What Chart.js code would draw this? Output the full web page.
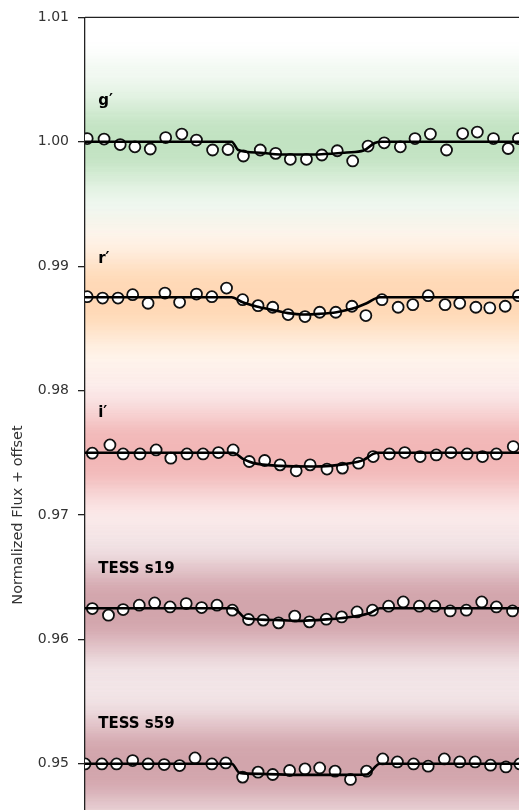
<!DOCTYPE html>
<html><head><meta charset="utf-8">
<script src="https://cdn.jsdelivr.net/npm/chart.js@4.4.1/dist/chart.umd.min.js"></script>
<style>
html,body{margin:0;padding:0;background:#fff;overflow:hidden;width:519px;height:810px}
canvas{display:block}
</style></head>
<body>
<canvas id="c" width="540" height="1030" style="width:540px;height:1030px"></canvas>
<script>
// ---------- data ----------
const bandNames = ['g′', 'r′', 'i′', 'TESS s19', 'TESS s59'];
const bandOffsets = [1.0, 0.9875, 0.975, 0.9625, 0.95];
const yTickValues = [0.95, 0.96, 0.97, 0.98, 0.99, 1.00, 1.01];

// binned points (time from mid-transit, hours ; normalized flux + offset)
const gBinT = [-2.97,-2.74,-2.52,-2.32,-2.11,-1.90,-1.68,-1.48,-1.26,-1.05,-0.84,-0.61,-0.40,-0.20,0.02,0.23,0.44,0.65,0.86,1.08,1.30,1.50,1.71,1.93,2.15,2.35,2.57,2.77,2.91];
const gBinF = [1.00026,1.00022,0.99978,0.99960,0.99942,1.00034,1.00062,1.00014,0.99934,0.99938,0.99886,0.99934,0.99907,0.99859,0.99859,0.99894,0.99928,0.99846,0.99966,0.99992,0.99960,1.00026,1.00062,0.99934,1.00066,1.00078,1.00026,0.99946,1.00026];
const rBinT = [-2.97,-2.76,-2.55,-2.35,-2.14,-1.91,-1.71,-1.48,-1.27,-1.07,-0.85,-0.64,-0.44,-0.23,0.00,0.20,0.42,0.64,0.83,1.05,1.27,1.47,1.68,1.91,2.11,2.33,2.52,2.73,2.91];
const rBinF = [0.98755,0.98744,0.98744,0.98771,0.98702,0.98784,0.98710,0.98776,0.98755,0.98824,0.98731,0.98683,0.98670,0.98611,0.98595,0.98630,0.98630,0.98678,0.98603,0.98731,0.98670,0.98691,0.98763,0.98691,0.98702,0.98670,0.98665,0.98678,0.98763];
const iBinT = [-2.90,-2.66,-2.48,-2.25,-2.03,-1.83,-1.61,-1.39,-1.18,-0.98,-0.76,-0.55,-0.34,-0.12,0.07,0.30,0.51,0.73,0.93,1.15,1.36,1.57,1.79,1.99,2.21,2.42,2.61,2.84];
const iBinF = [0.97497,0.97563,0.97491,0.97491,0.97523,0.97457,0.97491,0.97491,0.97502,0.97523,0.97430,0.97438,0.97403,0.97355,0.97403,0.97369,0.97377,0.97417,0.97470,0.97491,0.97502,0.97470,0.97483,0.97502,0.97491,0.97470,0.97491,0.97550];
const s19BinT = [-2.90,-2.68,-2.48,-2.26,-2.05,-1.84,-1.62,-1.41,-1.20,-0.99,-0.77,-0.57,-0.36,-0.14,0.06,0.29,0.50,0.71,0.92,1.14,1.34,1.56,1.77,1.98,2.20,2.41,2.61,2.83];
const s19BinF = [0.96248,0.96195,0.96240,0.96275,0.96293,0.96261,0.96288,0.96256,0.96275,0.96235,0.96160,0.96155,0.96133,0.96187,0.96141,0.96163,0.96181,0.96221,0.96235,0.96267,0.96301,0.96267,0.96267,0.96229,0.96235,0.96301,0.96261,0.96229];
const s59BinT = [-3.00,-2.77,-2.57,-2.35,-2.14,-1.92,-1.71,-1.50,-1.27,-1.08,-0.85,-0.64,-0.44,-0.21,0.00,0.20,0.41,0.62,0.84,1.06,1.26,1.48,1.68,1.90,2.11,2.32,2.53,2.74,2.93];
const s59BinF = [0.94999,0.94999,0.94999,0.95026,0.94999,0.94994,0.94986,0.95047,0.94999,0.95007,0.94893,0.94933,0.94914,0.94946,0.94959,0.94967,0.94941,0.94874,0.94941,0.95039,0.95015,0.94999,0.94981,0.95039,0.95015,0.95015,0.94989,0.94975,0.94999];

// transit models
const gModT = [-3, -1.00, -0.91, -0.61, -0.34, 0.11, 0.57, 0.80, 0.95, 1.05, 3];
const gModF = [1.0, 1.0, 0.99934, 0.99912, 0.99898, 0.99898, 0.99914, 0.99930, 0.99990, 1.0, 1.0];
const rModT = [-3, -1.00, -0.85, -0.66, -0.45, -0.23, -0.02, 0.20, 0.43, 0.64, 0.84, 1.02, 3];
const rModF = [0.9875, 0.9875, 0.98710, 0.98676, 0.98649, 0.98623, 0.98612, 0.98617, 0.98630, 0.98657, 0.98702, 0.9875, 0.9875];
const iModT = [-3, -0.98, -0.84, -0.70, -0.34, 0.11, 0.34, 0.57, 0.80, 0.93, 1.00, 3];
const iModF = [0.975, 0.975, 0.97449, 0.97417, 0.97395, 0.97390, 0.97395, 0.97411, 0.97443, 0.97491, 0.975, 0.975];
const s19ModT = [-3, -0.98, -0.80, -0.34, -0.11, 0.34, 0.57, 0.89, 1.02, 3];
const s19ModF = [0.9625, 0.9625, 0.96168, 0.96155, 0.96149, 0.96163, 0.96176, 0.96213, 0.9625, 0.9625];
const s59ModT = [-3, -1.00, -0.89, -0.61, -0.07, 0.48, 0.84, 1.02, 3];
const s59ModF = [0.95, 0.95, 0.94927, 0.94919, 0.94911, 0.94911, 0.94914, 0.95, 0.95];

// spread of the unbinned cloud around each band offset (flux units): dense core, middle, faint outskirts
const cloudT     = [-3.6, 3.6];
const cloudCore  = [0.0022, 0.0024, 0.0024, 0.0024, 0.0024];
const cloudMid   = [0.0040, 0.0042, 0.0043, 0.0042, 0.0042];
const cloudOuter = [0.0066, 0.0064, 0.0066, 0.0064, 0.0064];

// band label positions (time, flux)
const labelT = [-2.82, -2.82, -2.82, -2.82, -2.82];
const labelF = [1.00296, 0.99026, 0.97789, 0.96530, 0.95287];

// ---------- styling ----------
const binT = [gBinT, rBinT, iBinT, s19BinT, s59BinT];
const binF = [gBinF, rBinF, iBinF, s19BinF, s59BinF];
const modT = [gModT, rModT, iModT, s19ModT, s59ModT];
const modF = [gModF, rModF, iModF, s19ModF, s59ModF];
const cloudRGB = ['44,160,44', '255,127,14', '214,39,40', '160,60,75', '160,60,75'];
const layerAlpha = [[0.07,0.10,0.15],[0.07,0.10,0.16],[0.08,0.12,0.18],[0.12,0.18,0.25],[0.12,0.18,0.25]];
const spreads = [cloudOuter, cloudMid, cloudCore];

const datasets = [];
bandNames.forEach((name, k) => {
  datasets.push({
    label: name + ' model',
    data: modT[k].map((t, i) => ({x: t, y: modF[k][i]})),
    borderColor: '#000', borderWidth: 2.6, pointRadius: 0, fill: false,
    cubicInterpolationMode: 'monotone', order: 0, clip: 0
  });
  datasets.push({
    label: name + ' binned',
    data: binT[k].map((t, i) => ({x: t, y: binF[k][i]})),
    showLine: false, pointRadius: 5.5, pointBorderWidth: 1.8,
    pointBackgroundColor: '#fff', pointBorderColor: '#111', order: 1, clip: 0
  });
  spreads.forEach((sp, li) => {
    datasets.push({
      label: name + ' cloud hi ' + li,
      data: cloudT.map(t => ({x: t, y: bandOffsets[k] + sp[k]})),
      borderWidth: 0, borderColor: 'rgba(0,0,0,0)', pointRadius: 0,
      backgroundColor: 'rgba(' + cloudRGB[k] + ',' + layerAlpha[k][li] + ')',
      fill: '+1', order: 5, clip: 0
    });
    datasets.push({
      label: name + ' cloud lo ' + li,
      data: cloudT.map(t => ({x: t, y: bandOffsets[k] - sp[k]})),
      borderWidth: 0, borderColor: 'rgba(0,0,0,0)', pointRadius: 0,
      fill: false, order: 5, clip: 0
    });
  });
});

const cloudBlur = {
  id: 'cloudBlur',
  beforeRender(chart) { chart.ctx.filter = 'blur(10px)'; },
  beforeDraw(chart) { chart.ctx.filter = 'none'; }
};

const frameAndLabels = {
  id: 'frameAndLabels',
  afterDatasetsDraw(chart) {
    const {ctx, chartArea, scales} = chart;
    ctx.save();
    ctx.strokeStyle = '#222';
    ctx.lineWidth = 1.3;
    ctx.beginPath();
    ctx.moveTo(chartArea.left, chartArea.top);
    ctx.lineTo(chartArea.right, chartArea.top);
    ctx.lineTo(chartArea.right, chartArea.bottom);
    ctx.stroke();
    ctx.fillStyle = '#000';
    ctx.textBaseline = 'alphabetic';
    ctx.textAlign = 'left';
    ctx.font = 'bold 15px "DejaVu Sans"';
    bandNames.forEach((n, k) => {
      ctx.fillText(n, scales.x.getPixelForValue(labelT[k]), scales.y.getPixelForValue(labelF[k]));
    });
    ctx.restore();
  }
};

new Chart(document.getElementById('c'), {
  type: 'line',
  data: {datasets},
  options: {
    responsive: false, animation: false, devicePixelRatio: 1,
    layout: {padding: {top: 15, right: 15, bottom: 13.7, left: 0}},
    plugins: {legend: {display: false}, tooltip: {enabled: false}, filler: {drawTime: 'beforeDraw'}},
    scales: {
      x: {type: 'linear', min: -3, max: 3, display: false},
      y: {
        type: 'linear', min: 0.93, max: 1.01,
        afterFit(scale) { scale.width = 85; },
        afterBuildTicks(scale) { scale.ticks = yTickValues.map(v => ({value: v})); },
        ticks: {
          padding: 9, color: '#333',
          font: {family: 'DejaVu Sans', size: 14},
          callback: v => Number(v).toFixed(2)
        },
        grid: {drawOnChartArea: false, drawTicks: true, tickLength: 7, color: '#222', lineWidth: 1.3},
        border: {display: true, color: '#222', width: 1.3},
        title: {display: true, text: 'Normalized Flux + offset', color: '#333',
                font: {family: 'DejaVu Sans', size: 14.5}, padding: {top: 9.3, bottom: 0}}
      }
    }
  },
  plugins: [cloudBlur, frameAndLabels]
});
</script>
</body></html>
